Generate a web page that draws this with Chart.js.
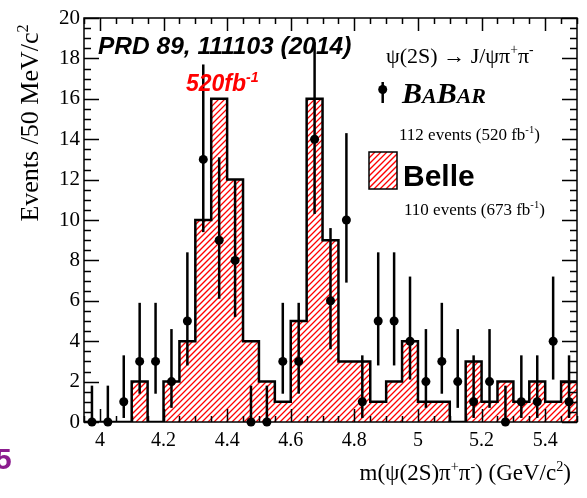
<!DOCTYPE html>
<html>
<head>
<meta charset="utf-8">
<script src="https://cdn.jsdelivr.net/npm/chart.js@4.4.1/dist/chart.umd.min.js"></script>
<style>
  html, body { margin: 0; padding: 0; background: #fff; }
  canvas { display: block; }
</style>
</head>
<body>
<canvas id="massChart" width="587" height="498"></canvas>
<script>
// 🔹 Bin centres, m(psi(2S) pi+ pi-) in GeV/c^2 (50 MeV bins)
const binCenters = [3.975, 4.025, 4.075, 4.125, 4.175, 4.225, 4.275, 4.325, 4.375, 4.425,
                    4.475, 4.525, 4.575, 4.625, 4.675, 4.725, 4.775, 4.825, 4.875, 4.925,
                    4.975, 5.025, 5.075, 5.125, 5.175, 5.225, 5.275, 5.325, 5.375, 5.425, 5.475];
const binWidth = 0.05;

// 🔹 Belle histogram (110 events)
const belleCounts = [0, 0, 0, 2, 0, 2, 4, 10, 16, 12, 4, 2, 1, 5, 16, 9, 3, 3, 1, 2, 4, 1, 1, 0, 3, 1, 2, 1, 2, 1, 2];

// 🔹 BaBar points (112 events) with error bar ends
const babarCounts = [0, 0, 1, 3, 3, 2, 5, 13, 9, 8, 0, 0, 3, 3, 14, 6, 10, 1, 5, 5, 4, 2, 3, 2, 1, 2, 0, 1, 1, 4, 1];
const babarLow  = [0, 0, 0.2, 1.4, 1.4, 0.7, 2.8, 9.4, 6.1, 5.2, 0, 0, 1.4, 1.4, 10.3, 3.6, 6.9, 0.2, 2.8, 2.8, 2.1, 0.7, 1.4, 0.7, 0.2, 0.7, 0, 0.2, 0.2, 2.1, 0.2];
const babarHigh = [1.8, 1.8, 3.3, 5.9, 5.9, 4.6, 8.4, 17.7, 13.1, 12.0, 1.8, 1.8, 5.9, 5.9, 18.8, 9.6, 14.3, 3.3, 8.4, 8.4, 7.2, 4.6, 5.9, 4.6, 3.3, 4.6, 1.8, 3.3, 3.3, 7.2, 3.3];

// 🔹 Axis ticks
const xTickLabels = [4, 4.2, 4.4, 4.6, 4.8, 5, 5.2, 5.4];
const yTickLabels = [0, 2, 4, 6, 8, 10, 12, 14, 16, 18, 20];

const SERIF = '"Liberation Serif", "Times New Roman", serif';
const SANS = '"Liberation Sans", Arial, sans-serif';
const HATCH_RED = "#ff0000";

const el = document.getElementById("massChart");
const ctx = el.getContext("2d");

// histogram steps: one point per lower bin edge, plus the last upper edge
const histPoints = binCenters.map((c, i) => ({ x: c - binWidth / 2, y: belleCounts[i] }));
histPoints.push({ x: binCenters[binCenters.length - 1] + binWidth / 2, y: belleCounts[belleCounts.length - 1] });
const babarPoints = binCenters.map((c, i) => ({ x: c, y: babarCounts[i] }));

// red "///" lines inside whatever path is currently clipped
function strokeHatch(g, left, top, right, bottom) {
    const h = bottom - top;
    g.strokeStyle = HATCH_RED;
    g.lineWidth = 1.3;
    g.beginPath();
    for (let d = -h; d < right - left + 6; d += 6) {
        g.moveTo(left + d, bottom);
        g.lineTo(left + d + h, top);
    }
    g.stroke();
}

// draw text made of pieces, some of them superscripts
function drawRich(g, parts, x, y, size, style, family, align) {
    const f = s => `${style} ${s}px ${family}`;
    let w = 0;
    parts.forEach(p => { g.font = f(p.sup ? size * 0.62 : size); w += g.measureText(p.t).width; });
    let cx = align === "right" ? x - w : align === "center" ? x - w / 2 : x;
    parts.forEach(p => {
        const s = p.sup ? size * 0.62 : size;
        g.font = f(s);
        g.fillText(p.t, cx, p.sup ? y - size * 0.4 : y);
        cx += g.measureText(p.t).width;
    });
}

// 🔹 Hatched fill under the Belle histogram
const belleHatch = {
    id: "belleHatch",
    beforeDatasetsDraw(chart) {
        const { ctx: g, chartArea: a, scales: { x, y } } = chart;
        const y0 = y.getPixelForValue(0);
        g.save();
        g.beginPath();
        g.moveTo(x.getPixelForValue(histPoints[0].x), y0);
        for (let i = 0; i < histPoints.length - 1; i++) {
            const py = y.getPixelForValue(histPoints[i].y);
            g.lineTo(x.getPixelForValue(histPoints[i].x), py);
            g.lineTo(x.getPixelForValue(histPoints[i + 1].x), py);
        }
        g.lineTo(x.getPixelForValue(histPoints[histPoints.length - 1].x), y0);
        g.closePath();
        g.clip();
        strokeHatch(g, a.left, a.top, a.right, a.bottom);
        g.restore();
    }
};

const errorBars = {
    id: "errorBars",
    afterDatasetsDraw(chart) {
        const { ctx: g, scales: { x, y } } = chart;
        g.save();
        g.strokeStyle = "#000";
        g.lineWidth = 2.5;
        binCenters.forEach((c, i) => {
            const px = x.getPixelForValue(c);
            g.beginPath();
            g.moveTo(px, y.getPixelForValue(babarLow[i]));
            g.lineTo(px, y.getPixelForValue(babarHigh[i]));
            g.stroke();
        });
        g.restore();
    }
};

const frameAndText = {
    id: "frameAndText",
    afterDraw(chart) {
        const { ctx: g, chartArea: a, scales: { x, y } } = chart;
        g.save();
        g.strokeStyle = "#000";
        g.lineWidth = 1.5;
        g.strokeRect(a.left, a.top, a.right - a.left, a.bottom - a.top);

        // x ticks every 0.05, long every 0.2 (top and bottom)
        g.beginPath();
        for (let k = 0; k <= 31; k++) {
            const v = 3.95 + k * 0.05;
            const px = Math.round(x.getPixelForValue(v)) + 0.5;
            const major = Math.abs(v / 0.2 - Math.round(v / 0.2)) < 1e-6;
            const len = major ? 13 : 6;
            g.moveTo(px, a.bottom); g.lineTo(px, a.bottom - len);
            g.moveTo(px, a.top); g.lineTo(px, a.top + len);
        }
        // y ticks every 0.5, long every 2 (left and right)
        for (let k = 0; k <= 40; k++) {
            const v = k * 0.5;
            const py = Math.round(y.getPixelForValue(v)) + 0.5;
            const len = k % 4 === 0 ? 15 : 7;
            g.moveTo(a.left, py); g.lineTo(a.left + len, py);
            g.moveTo(a.right, py); g.lineTo(a.right - len, py);
        }
        g.stroke();

        g.fillStyle = "#000";
        g.textBaseline = "alphabetic";

        // axis titles
        g.save();
        g.translate(38, 123);
        g.rotate(-Math.PI / 2);
        drawRich(g, [{ t: "Events /50 MeV/c" }, { t: "2", sup: true }], 0, 0, 26, "normal", SERIF, "center");
        g.restore();
        drawRich(g, [{ t: "m(ψ(2S)π" }, { t: "+", sup: true }, { t: "π" }, { t: "-", sup: true },
                     { t: ") (GeV/c" }, { t: "2", sup: true }, { t: ")" }], 571, 480, 23, "normal", SERIF, "right");

        // reference / luminosity
        drawRich(g, [{ t: "PRD 89, 111103 (2014)" }], 98, 54, 24.5, "italic bold", SANS, "left");
        g.fillStyle = "#ff0000";
        drawRich(g, [{ t: "520fb" }, { t: "-1", sup: true }], 186, 91, 23, "italic bold", SANS, "left");
        g.fillStyle = "#000";

        // legend
        drawRich(g, [{ t: "ψ(2S) → J/ψπ" }, { t: "+", sup: true }, { t: "π" }, { t: "-", sup: true }], 386, 63, 22, "normal", SERIF, "left");
        g.beginPath();
        g.arc(382.7, 89.5, 4.5, 0, Math.PI * 2);
        g.fill();
        g.lineWidth = 2.5;
        g.beginPath(); g.moveTo(382.7, 82); g.lineTo(382.7, 103); g.stroke();
        let bx = 402;
        [["B", 30], ["A", 22], ["B", 30], ["AR", 22]].forEach(([t, s]) => {
            g.font = `italic bold ${s}px ${SERIF}`;
            g.fillText(t, bx, 103);
            bx += g.measureText(t).width;
        });
        drawRich(g, [{ t: "112 events (520 fb" }, { t: "-1", sup: true }, { t: ")" }], 399, 140, 17, "normal", SERIF, "left");

        g.save();
        g.beginPath();
        g.rect(369, 152, 28, 37);
        g.clip();
        strokeHatch(g, 369, 152, 397, 189);
        g.restore();
        g.strokeStyle = "#000";
        g.lineWidth = 1.5;
        g.strokeRect(369, 152, 28, 37);
        g.fillStyle = "#000";
        drawRich(g, [{ t: "Belle" }], 403, 186, 30, "bold", SANS, "left");
        drawRich(g, [{ t: "110 events (673 fb" }, { t: "-1", sup: true }, { t: ")" }], 404, 215, 17, "normal", SERIF, "left");

        // stray glyph from the neighbouring slide
        g.fillStyle = "#8b1c8e";
        drawRich(g, [{ t: "5" }], -5, 469, 30, "bold", SANS, "left");
        g.restore();
    }
};

new Chart(ctx, {
    type: "scatter",
    data: {
        datasets: [
            {
                type: "line", label: "Belle", data: histPoints, stepped: true,
                borderColor: "#000", borderWidth: 2.5, pointRadius: 0,
                fill: false, order: 2
            },
            {
                type: "scatter", label: "BaBar", data: babarPoints,
                pointRadius: 4.5, pointBackgroundColor: "#000", pointBorderWidth: 0,
                order: 1, clip: false
            }
        ]
    },
    options: {
        responsive: false, animation: false, devicePixelRatio: 1,
        layout: { padding: { left: 0, top: 18, right: 10, bottom: 0 } },
        plugins: { legend: { display: false }, tooltip: { enabled: false } },
        scales: {
            x: {
                type: "linear", min: 3.95, max: 5.5,
                afterBuildTicks: s => { s.ticks = xTickLabels.map(v => ({ value: v })); },
                afterFit: s => { s.height = 76; },
                grid: { display: false, drawTicks: false }, border: { display: false },
                ticks: {
                    font: { family: SERIF, size: 20 }, color: "#000", padding: 7,
                    maxRotation: 0, autoSkip: false, callback: v => String(v)
                }
            },
            y: {
                min: 0, max: 20,
                afterBuildTicks: s => { s.ticks = yTickLabels.map(v => ({ value: v })); },
                afterFit: s => { s.width = 84; },
                grid: { display: false, drawTicks: false }, border: { display: false },
                ticks: { font: { family: SERIF, size: 21 }, color: "#000", padding: 4, autoSkip: false }
            }
        }
    },
    plugins: [belleHatch, errorBars, frameAndText]
});
</script>
</body>
</html>
